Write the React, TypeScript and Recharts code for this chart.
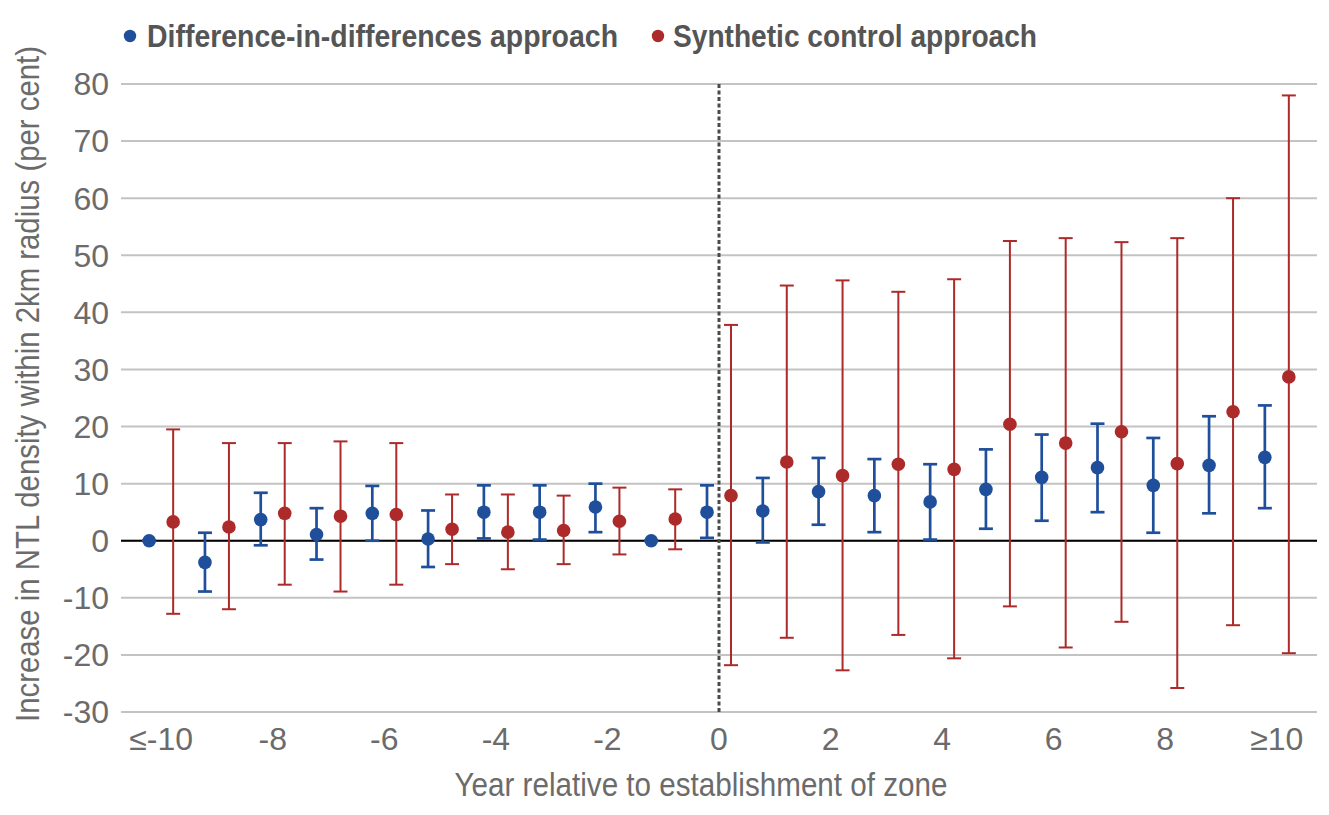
import React from 'react';
import {
  ScatterChart,
  Scatter,
  XAxis,
  YAxis,
  CartesianGrid,
  ErrorBar,
  ReferenceLine,
  Legend,
  Label,
} from 'recharts';

// ---------- data ----------
const years = [-10, -9, -8, -7, -6, -5, -4, -3, -2, -1, 0, 1, 2, 3, 4, 5, 6, 7, 8, 9, 10];
const xTickValues = [-10, -8, -6, -4, -2, 0, 2, 4, 6, 8, 10];
const xTickLabels = ['≤-10', '-8', '-6', '-4', '-2', '0', '2', '4', '6', '8', '≥10'];
const yTickValues = [-30, -20, -10, 0, 10, 20, 30, 40, 50, 60, 70, 80];

const didEstimate = [0, -3.8, 3.7, 1.1, 4.8, 0.3, 5.0, 5.0, 5.9, 0, 5.0, 5.2, 8.6, 7.9, 6.8, 9.0, 11.1, 12.8, 9.7, 13.2, 14.6];
const didLower = [0, -8.9, -0.8, -3.3, 0, -4.6, 0.4, 0.2, 1.5, 0, 0.5, -0.3, 2.8, 1.5, 0.2, 2.1, 3.5, 5.0, 1.4, 4.8, 5.7];
const didUpper = [0, 1.4, 8.4, 5.7, 9.6, 5.3, 9.7, 9.7, 10.0, 0, 9.7, 11.0, 14.5, 14.3, 13.4, 16.0, 18.6, 20.5, 18.0, 21.8, 23.7];

const scEstimate = [3.3, 2.4, 4.8, 4.3, 4.6, 2.0, 1.5, 1.8, 3.4, 3.8, 7.9, 13.8, 11.4, 13.4, 12.5, 20.4, 17.1, 19.1, 13.5, 22.6, 28.7];
const scLower = [-12.8, -12.0, -7.7, -8.9, -7.7, -4.1, -5.0, -4.1, -2.4, -1.5, -21.8, -17.0, -22.7, -16.5, -20.6, -11.5, -18.7, -14.2, -25.8, -14.8, -19.7];
const scUpper = [19.5, 17.1, 17.1, 17.4, 17.1, 8.1, 8.1, 7.9, 9.3, 9.0, 37.8, 44.7, 45.6, 43.6, 45.8, 52.5, 53.0, 52.3, 53.0, 60.0, 78.0];

const seriesNames = ['Difference-in-differences approach', 'Synthetic control approach'];
const xAxisTitle = 'Year relative to establishment of zone';
const yAxisTitle = 'Increase in NTL density within 2km radius (per cent)';

// ---------- style ----------
const BLUE = '#1f4f9b';
const RED = '#ad2a2a';
const TEXT = '#6b6b6b';
const FONT = "'Liberation Sans', Arial, sans-serif";
const SIDE_OFFSET = 0.215; // horizontal dodge of the two series within a year

const didData = years.map((yr, i) => ({
  x: yr - SIDE_OFFSET,
  y: didEstimate[i],
  err: [didEstimate[i] - didLower[i], didUpper[i] - didEstimate[i]],
}));
const scData = years.map((yr, i) => ({
  x: yr + SIDE_OFFSET,
  y: scEstimate[i],
  err: [scEstimate[i] - scLower[i], scUpper[i] - scEstimate[i]],
}));

const formatX = (v: number) => {
  const idx = xTickValues.indexOf(v);
  return idx >= 0 ? xTickLabels[idx] : String(v);
};

const Dot = (color: string) => (props: any) => (
  <circle cx={props.cx} cy={props.cy} r={6.8} fill={color} />
);

const legendItems = [
  { color: BLUE, dotX: 130, textX: 147, textLen: 471 },
  { color: RED, dotX: 658, textX: 673, textLen: 364 },
];

const LegendContent = () => (
  <svg width={1329} height={60} style={{ display: 'block' }}>
    {legendItems.map((it, i) => (
      <g key={i}>
        <circle cx={it.dotX} cy={22} r={6.2} fill={it.color} />
        <text
          x={it.textX}
          y={33}
          fontFamily={FONT}
          fontSize={32}
          fontWeight="bold"
          fill="#555"
          textLength={it.textLen}
          lengthAdjust="spacingAndGlyphs"
        >
          {seriesNames[i]}
        </text>
      </g>
    ))}
  </svg>
);

export default function App() {
  return (
    <div
      style={{
        position: 'absolute',
        left: 0,
        top: 0,
        width: 1329,
        height: 815,
        background: '#fff',
        fontFamily: FONT,
      }}
    >
      <ScatterChart width={1329} height={815} margin={{ top: 84, right: 12, bottom: 0, left: 0 }}>
        <CartesianGrid vertical={false} stroke="#c3c3c3" strokeWidth={2} />
        <XAxis
          type="number"
          dataKey="x"
          domain={[-10.72, 10.72]}
          ticks={xTickValues}
          tickFormatter={formatX}
          allowDataOverflow
          axisLine={false}
          tickLine={false}
          tickSize={0}
          tickMargin={15}
          height={103}
          interval={0}
          tick={{ fill: TEXT, fontSize: 32, fontFamily: FONT }}
        >
          <Label
            content={() => (
              <text
                x={701}
                y={796}
                textAnchor="middle"
                fill={TEXT}
                fontSize={33}
                fontFamily={FONT}
                textLength={493}
                lengthAdjust="spacingAndGlyphs"
              >
                {xAxisTitle}
              </text>
            )}
          />
        </XAxis>
        <YAxis
          type="number"
          dataKey="y"
          domain={[-30, 80]}
          ticks={yTickValues}
          allowDataOverflow
          axisLine={false}
          tickLine={false}
          tickSize={0}
          tickMargin={12}
          width={121}
          interval={0}
          tick={{ fill: TEXT, fontSize: 32, fontFamily: FONT }}
        >
          <Label
            content={() => (
              <text
                transform="translate(39,384) rotate(-90)"
                textAnchor="middle"
                fill={TEXT}
                fontSize={33}
                fontFamily={FONT}
                textLength={676}
                lengthAdjust="spacingAndGlyphs"
              >
                {yAxisTitle}
              </text>
            )}
          />
        </YAxis>
        <ReferenceLine y={0} stroke="#000" strokeWidth={2.2} />
        <ReferenceLine x={0} stroke="#4a4a4a" strokeWidth={3} strokeDasharray="4 2.5" />
        <Legend
          verticalAlign="middle"
          align="center"
          layout="horizontal"
          wrapperStyle={{ top: 14, left: 0, width: 1329, height: 60 }}
          content={() => <LegendContent />}
        />
        <Scatter
          name={seriesNames[0]}
          data={didData}
          fill={BLUE}
          shape={Dot(BLUE)}
          isAnimationActive={false}
        >
          <ErrorBar dataKey="err" direction="y" width={7} stroke={BLUE} strokeWidth={2.7} isAnimationActive={false} />
        </Scatter>
        <Scatter
          name={seriesNames[1]}
          data={scData}
          fill={RED}
          shape={Dot(RED)}
          isAnimationActive={false}
        >
          <ErrorBar dataKey="err" direction="y" width={7} stroke={RED} strokeWidth={2} isAnimationActive={false} />
        </Scatter>
      </ScatterChart>
    </div>
  );
}
